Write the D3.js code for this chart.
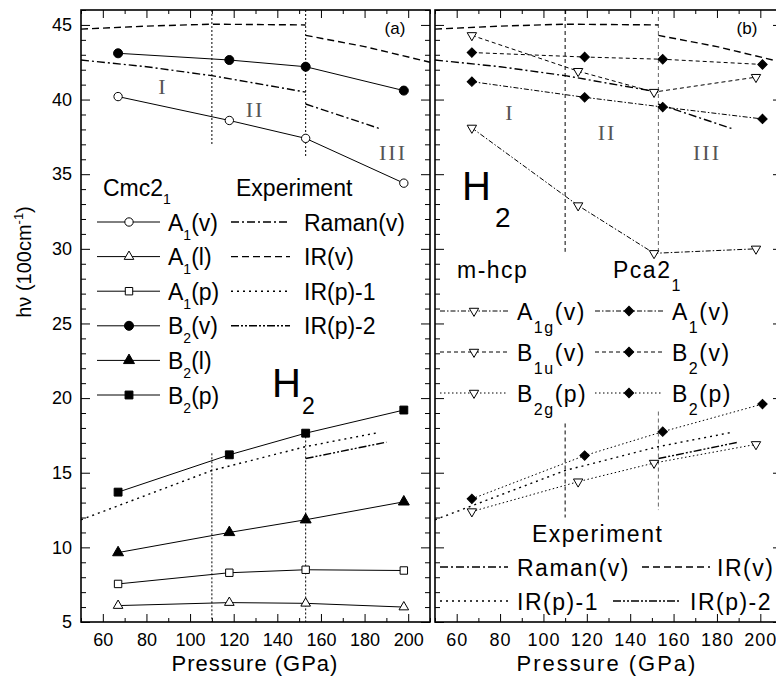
<!DOCTYPE html>
<html>
<head>
<meta charset="utf-8">
<script src="https://cdn.jsdelivr.net/npm/d3@7"></script>
<style>
  body { margin: 0; background: #fff; }
  svg { display: block; font-family: Arial, "Liberation Sans", sans-serif; }
</style>
</head>
<body>
<div id="chart"></div>
<script>
// ---- values (pressure in GPa, hv in 100 cm^-1) ----
const xTicks = [60, 80, 100, 120, 140, 160, 180, 200];
const yTicks = [5, 10, 15, 20, 25, 30, 35, 40, 45];
const phaseBounds = [110, 153];

// Cmc2_1 (panel a)
const cmcP = [67, 118, 153, 198];
const cmcA1v = [40.2, 38.6, 37.4, 34.4];
const cmcA1l = [6.1, 6.3, 6.25, 6.0];
const cmcA1p = [7.55, 8.3, 8.5, 8.45];
const cmcB2v = [43.1, 42.65, 42.2, 40.6];
const cmcB2l = [9.65, 11.0, 11.85, 13.05];
const cmcB2p = [13.7, 16.2, 17.65, 19.2];

// m-hcp (panel b)
const hcpP = [67, 116, 151, 198];
const hcpA1g = [38.1, 32.9, 29.7, 30.0];
const hcpB1u = [44.3, 41.9, 40.5, 41.5];
const hcpB2g = [12.4, 14.4, 15.65, 16.9];

// Pca2_1 (panel b)
const pcaP = [67, 119, 155, 201];
const pcaA1v = [41.2, 40.15, 39.5, 38.7];
const pcaB2v = [43.15, 42.85, 42.7, 42.35];
const pcaB2p = [13.25, 16.15, 17.75, 19.6];

// experiment curves (two pieces where they jump at 153 GPa)
const ramanP1 = [50, 80, 110, 153], ramanV1 = [42.65, 42.2, 41.6, 40.5];
const ramanP2 = [153, 187], ramanV2 = [39.7, 38.05];
const irvP1 = [50, 80, 110, 153], irvV1 = [44.72, 44.92, 45.05, 45.0];
const irvP2 = [153, 180, 210], irvV2 = [44.3, 43.55, 42.5];
const irp1P = [50, 80, 110, 153, 186], irp1V = [11.85, 13.5, 15.15, 16.75, 17.68];
const irp2P = [153, 190], irp2V = [15.95, 17.05];

const W = 776, H = 678;
const svg = d3.select("#chart").append("svg").attr("width", W).attr("height", H);

const y = d3.scaleLinear().domain([5, 46]).range([622, 10]);
const xA = d3.scaleLinear().domain([50, 210]).range([81, 430]);
const xB = d3.scaleLinear().domain([50, 210]).range([435, 782]);

const dash = {
  raman: "8,3,2,3",
  irv: "7,4",
  irp1: "2,4",
  irp2: "8,2,2,2,2,2",
  bA: "5,2,1.5,2",
  bB: "4,3",
  bP: "1.5,2.5"
};

const MK = {
  circleOpen: { type: d3.symbolCircle, size: 55, fill: "#fff" },
  circleFill: { type: d3.symbolCircle, size: 64, fill: "#000" },
  triOpen: { type: d3.symbolTriangle, size: 40, fill: "#fff" },
  triFill: { type: d3.symbolTriangle, size: 52, fill: "#000" },
  sqOpen: { type: d3.symbolSquare, size: 55, fill: "#fff" },
  sqFill: { type: d3.symbolSquare, size: 62, fill: "#000" },
  triDown: { type: d3.symbolTriangle, size: 38, fill: "#fff", rot: 180 },
  diamond: { type: d3.symbolSquare, size: 44, fill: "#000", rot: 45 }
};

function frame(x, labelled) {
  const g = svg.append("g");
  const [x0, x1] = x.range(), [y0, y1] = y.range();
  const minorX = d3.range(50, 211, 10).filter(v => !xTicks.includes(v));
  const minorY = d3.range(5, 47, 1).filter(v => !yTicks.includes(v));

  const axes = [
    [d3.axisBottom(x).tickValues(minorX).tickSize(-4), `translate(0,${y0})`],
    [d3.axisTop(x).tickValues(minorX).tickSize(-4), `translate(0,${y1})`],
    [d3.axisTop(x).tickValues(xTicks).tickSize(-8), `translate(0,${y1})`],
    [d3.axisLeft(y).tickValues(minorY).tickSize(-5), `translate(${x0},0)`],
    [d3.axisRight(y).tickValues(minorY).tickSize(-5), `translate(${x1},0)`],
    [d3.axisRight(y).tickValues(yTicks).tickSize(-9), `translate(${x1},0)`]
  ];
  axes.forEach(([ax, tr]) => {
    g.append("g").attr("transform", tr).call(ax.tickFormat("").tickSizeOuter(0))
      .call(s => s.select(".domain").remove());
  });

  const bottom = g.append("g").attr("transform", `translate(0,${y0})`)
    .call(d3.axisBottom(x).tickValues(xTicks).tickSize(-8).tickPadding(11).tickSizeOuter(0));
  const left = g.append("g").attr("transform", `translate(${x0},0)`)
    .call(d3.axisLeft(y).tickValues(yTicks).tickSize(-9).tickPadding(9).tickSizeOuter(0)
      .tickFormat(labelled ? d3.format("d") : ""));
  [bottom, left].forEach(s => {
    s.select(".domain").remove();
    s.attr("font-size", 18).attr("font-family", "Arial, 'Liberation Sans', sans-serif");
    s.selectAll("text").attr("fill", "#000");
  });
  if (!labelled) bottom.selectAll("text").attr("letter-spacing", 1);
  g.selectAll(".tick line").attr("stroke", "#000");

  g.append("rect").attr("x", x0).attr("y", y1).attr("width", x1 - x0).attr("height", y0 - y1)
    .attr("fill", "none").attr("stroke", "#000").attr("stroke-width", 1.6);
}

function curve(x, ps, vs, dashArr, w) {
  const pts = ps.map((p, i) => [p, vs[i]]);
  svg.append("path").datum(pts)
    .attr("d", d3.line().x(d => x(d[0])).y(d => y(d[1])))
    .attr("fill", "none").attr("stroke", "#000")
    .attr("stroke-width", w).attr("stroke-dasharray", dashArr);
}

function marker(g, cx, cy, m) {
  g.append("path")
    .attr("d", d3.symbol().type(m.type).size(m.size)())
    .attr("transform", `translate(${cx},${cy}) rotate(${m.rot || 0})`)
    .attr("fill", m.fill).attr("stroke", "#000").attr("stroke-width", 1);
}

function markers(x, ps, vs, m) {
  const g = svg.append("g");
  ps.forEach((p, i) => marker(g, x(p), y(vs[i]), m));
}

function subText(x, yb, parts, size, subSize, subDy, ls) {
  const t = svg.append("text").attr("x", x).attr("y", yb)
    .attr("font-size", size).attr("letter-spacing", ls || 0).attr("fill", "#000");
  t.append("tspan").text(parts[0]);
  if (parts[1]) {
    t.append("tspan").attr("font-size", subSize).attr("dy", subDy).text(parts[1]);
    if (parts[2]) t.append("tspan").attr("dy", -subDy).text(parts[2]);
  }
  return t;
}

function roman(x, yc, s) {
  svg.append("text").attr("x", x).attr("y", yc + 7).attr("text-anchor", "middle")
    .attr("font-family", "'Liberation Serif', 'Times New Roman', serif")
    .attr("font-size", 22).attr("letter-spacing", 2).attr("fill", "#555").text(s);
}

function boundary(x, segs, dashArr, col) {
  phaseBounds.forEach((p, i) => {
    segs[i].forEach(([a, b]) => {
      svg.append("line").attr("x1", x(p)).attr("x2", x(p)).attr("y1", y(a)).attr("y2", y(b))
        .attr("stroke", col[i]).attr("stroke-width", 1).attr("stroke-dasharray", dashArr);
    });
  });
}

function expLines(x) {
  curve(x, ramanP1, ramanV1, dash.raman, 1.4);
  curve(x, ramanP2, ramanV2, dash.raman, 1.4);
  curve(x, irvP1, irvV1, dash.irv, 1.4);
  curve(x, irvP2, irvV2, dash.irv, 1.4);
  curve(x, irp1P, irp1V, dash.irp1, 1.4);
  curve(x, irp2P, irp2V, dash.irp2, 1.4);
}

// ================= panel (a) =================
frame(xA, true);
boundary(xA, [[[46, 37], [16.3, 5]], [[46, 36.1], [17.7, 5]]], "2,2", ["#000", "#000"]);
expLines(xA);

const cmcSeries = [
  [cmcA1v, MK.circleOpen, ["A", "1", "(v)"]],
  [cmcA1l, MK.triOpen, ["A", "1", "(l)"]],
  [cmcA1p, MK.sqOpen, ["A", "1", "(p)"]],
  [cmcB2v, MK.circleFill, ["B", "2", "(v)"]],
  [cmcB2l, MK.triFill, ["B", "2", "(l)"]],
  [cmcB2p, MK.sqFill, ["B", "2", "(p)"]]
];
cmcSeries.forEach(([vs, m]) => { curve(xA, cmcP, vs, null, 1); markers(xA, cmcP, vs, m); });

roman(163, 87, "I");
roman(255, 110, "II");
roman(393, 153, "III");
svg.append("text").attr("x", 395).attr("y", 34).attr("text-anchor", "middle")
  .attr("font-size", 17).text("(a)");

// legend (a)
subText(103, 196, ["Cmc2", "1"], 23, 14, 8);
svg.append("text").attr("x", 236).attr("y", 196).attr("font-size", 23).text("Experiment");
const legG = svg.append("g");
cmcSeries.forEach(([vs, m, name], i) => {
  const ry = 222 + i * 34.6;
  legG.append("line").attr("x1", 97).attr("x2", 160).attr("y1", ry).attr("y2", ry)
    .attr("stroke", "#000").attr("stroke-width", 1);
  marker(legG, 129, ry, m);
  subText(168, ry + 8.5, name, 23, 14, 9);
});
const expNames = ["Raman(v)", "IR(v)", "IR(p)-1", "IR(p)-2"];
const expDash = [dash.raman, dash.irv, dash.irp1, dash.irp2];
expNames.forEach((n, i) => {
  const ry = 222 + i * 34.6;
  legG.append("line").attr("x1", 231).attr("x2", 290).attr("y1", ry).attr("y2", ry)
    .attr("stroke", "#000").attr("stroke-width", 1.4).attr("stroke-dasharray", expDash[i]);
  svg.append("text").attr("x", 304).attr("y", ry + 8.5).attr("font-size", 23).text(n);
});
svg.append("text").attr("x", 272).attr("y", 397).attr("font-size", 40).text("H");
svg.append("text").attr("x", 302).attr("y", 414).attr("font-size", 23).text("2");

// ================= panel (b) =================
frame(xB, false);
boundary(xB, [[[46, 29.8], [18.3, 12.0]], [[46, 29.7], [19.1, 12.5]]], "4,3", ["#000", "#666"]);
expLines(xB);

const bSeries = [
  [hcpP, hcpA1g, MK.triDown, dash.bA, ["A", "1g", "(v)"]],
  [hcpP, hcpB1u, MK.triDown, dash.bB, ["B", "1u", "(v)"]],
  [hcpP, hcpB2g, MK.triDown, dash.bP, ["B", "2g", "(p)"]],
  [pcaP, pcaA1v, MK.diamond, dash.bA, ["A", "1", "(v)"]],
  [pcaP, pcaB2v, MK.diamond, dash.bB, ["B", "2", "(v)"]],
  [pcaP, pcaB2p, MK.diamond, dash.bP, ["B", "2", "(p)"]]
];
bSeries.forEach(([ps, vs, m, d]) => { curve(xB, ps, vs, d, 1); markers(xB, ps, vs, m); });

roman(510, 113, "I");
roman(607, 133, "II");
roman(707, 153, "III");
svg.append("text").attr("x", 747).attr("y", 34).attr("text-anchor", "middle")
  .attr("font-size", 17).text("(b)");

svg.append("text").attr("x", 462).attr("y", 200).attr("font-size", 40).text("H");
svg.append("text").attr("x", 495).attr("y", 227).attr("font-size", 28).text("2");

// legend (b)
svg.append("text").attr("x", 457).attr("y", 278).attr("font-size", 23)
  .attr("letter-spacing", 1.5).text("m-hcp");
subText(613, 278, ["Pca2", "1"], 23, 16, 13, 1.5);
const legB = svg.append("g");
bSeries.forEach(([ps, vs, m, d, name], i) => {
  const col = i < 3 ? 0 : 1;
  const ry = 311 + (i % 3) * 41;
  const lx = col ? 595 : 440;
  legB.append("line").attr("x1", lx).attr("x2", lx + 68).attr("y1", ry).attr("y2", ry)
    .attr("stroke", "#000").attr("stroke-width", 1).attr("stroke-dasharray", d);
  marker(legB, lx + 34, ry, m);
  subText(col ? 672 : 517, ry + 8.5, name, 23, 16, 13, 1.5);
});
svg.append("text").attr("x", 532).attr("y", 542).attr("font-size", 23)
  .attr("letter-spacing", 1.5).text("Experiment");
const bExp = [[440, 517, 567], [642, 717, 567], [440, 517, 601], [613, 690, 601]];
expNames.forEach((n, i) => {
  const [lx, tx, ry] = bExp[i];
  legB.append("line").attr("x1", lx).attr("x2", lx + 68).attr("y1", ry).attr("y2", ry)
    .attr("stroke", "#000").attr("stroke-width", 1.4).attr("stroke-dasharray", expDash[i]);
  svg.append("text").attr("x", tx).attr("y", ry + 8.5).attr("font-size", 23)
    .attr("letter-spacing", 1.5).text(n);
});

// ================= axis titles =================
svg.append("text").attr("x", 255).attr("y", 671).attr("text-anchor", "middle")
  .attr("font-size", 22).attr("letter-spacing", 1).text("Pressure (GPa)");
svg.append("text").attr("x", 607).attr("y", 671).attr("text-anchor", "middle")
  .attr("font-size", 22).attr("letter-spacing", 2).text("Pressure (GPa)");

const yl = svg.append("text").attr("transform", "translate(31,262) rotate(-90)")
  .attr("text-anchor", "middle").attr("font-size", 20);
yl.append("tspan").text("h\u03bd (100cm");
yl.append("tspan").attr("font-size", 13).attr("dy", -8).text("-1");
yl.append("tspan").attr("dy", 8).text(")");
</script>
</body>
</html>
